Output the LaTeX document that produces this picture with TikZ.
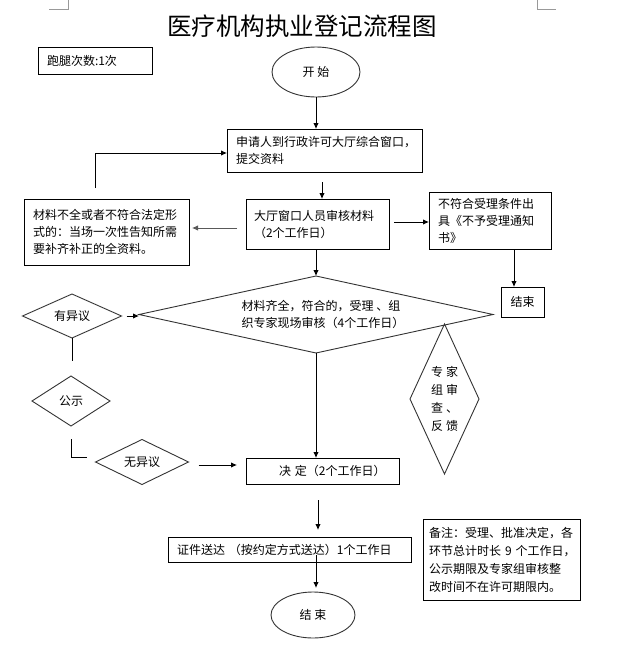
\documentclass[tikz,border=0pt]{standalone}
\usepackage{fontspec}
\newfontfamily\cjk{Noto Sans CJK SC}
\usetikzlibrary{shapes.geometric,arrows.meta,calc}
\begin{document}
\begin{tikzpicture}[x=1pt,y=-1pt,
  every node/.style={font=\cjk\fontsize{12}{17}\selectfont, inner sep=0pt, outer sep=0pt},
  bx/.style={draw=black, line width=0.9pt, rectangle, align=left},
  dia/.style={draw=black!80, line width=0.9pt, diamond, align=center},
  ell/.style={draw=black!80, line width=0.9pt, ellipse},
  arr/.style={draw=black, line width=0.9pt, -{Latex[length=6pt,width=5.5pt]}},
  ln/.style={draw=black, line width=0.9pt},
  corner/.style={draw=black!40, line width=0.8pt}]
\useasboundingbox (0,0) rectangle (620,645);

% page corner marks
\draw[corner] (49,9) -- (68,9) -- (68,0);
\draw[corner] (537,0) -- (537,9) -- (556,9);

% title
\node[font=\cjk\fontsize{24.5}{26}\selectfont] (title) at (302,26) {医疗机构执业登记流程图};

% nodes
\node[bx, minimum width=114pt, minimum height=27pt, text width=96pt] (paotui) at (95,60.5) {跑腿次数:1次};
\node[ell, minimum width=88pt, minimum height=50pt] (start) at (316,72) {开 始};
\node[bx, minimum width=195pt, minimum height=43pt, text width=177pt] (apply) at (324.5,150.5)
  {申请人到行政许可大厅综合窗口，\\提交资料};
\node[bx, minimum width=143pt, minimum height=50pt, text width=127pt] (review) at (317.5,224)
  {大厅窗口人员审核材料\\（2个工作日）};
\node[bx, minimum width=165pt, minimum height=66pt, text width=147pt] (incomplete) at (106.5,232)
  {材料不全或者不符合法定形\\式的：当场一次性告知所需\\要补齐补正的全资料。};
\node[bx, minimum width=122pt, minimum height=57pt, text width=104pt] (reject) at (490,220.5)
  {不符合受理条件出\\具《不予受理通知\\书》};
\node[bx, minimum width=43pt, minimum height=30pt] (endbox) at (522.5,302) {结束};
\node[dia, aspect=4.6, minimum width=354pt, minimum height=77pt, align=left] (main) at (316,314.5)
  {\hspace*{14pt}材料齐全，符合的，受理~、组\\\hspace*{14pt}织专家现场审核（4个工作日）};
\node[dia, aspect=2.25, minimum width=99pt, minimum height=44pt] (yiyi) at (72,316) {有异议};
\node[dia, aspect=1.56, minimum width=78pt, minimum height=50pt] (gongshi) at (71,401) {公示};
\node[dia, aspect=2.07, minimum width=93pt, minimum height=45pt] (wuyiyi) at (142,462) {无异议};
\node[dia, aspect=0.46, minimum width=69pt, minimum height=150pt, align=left,
      font=\cjk\fontsize{12}{18}\selectfont] (expert) at (444.5,399)
  {专\hspace{3pt}家\\组\hspace{3pt}审\\查\hspace{3pt}、\\反\hspace{3pt}馈};
\node[bx, minimum width=153pt, minimum height=26pt, text width=135pt] (decide) at (322.5,471)
  {\hspace*{24pt}决~定（2个工作日）};
\node[bx, minimum width=243pt, minimum height=25pt, text width=225pt] (cert) at (289.5,549.5)
  {证件送达~（按约定方式送达）1个工作日};
\node[bx, minimum width=157pt, minimum height=81pt, text width=145pt,
      font=\cjk\fontsize{12}{18}\selectfont] (note) at (501.5,559.5)
  {备注：受理、批准决定，各\\环节总计时长~9~个工作日，\\公示期限及专家组审核整\\改时间不在许可期限内。};
\node[ell, minimum width=84pt, minimum height=46pt] (endE) at (313,615) {结 束};

% connectors
\draw[arr] (start.south) -- (start.south |- apply.north);
\draw[arr] ($(apply.south)+(-2.5,10)$) coordinate (a1) -- (a1 |- review.north);
\draw[arr, draw=black!65] ($(review.west)+(-9,4)$) coordinate (a2) -- ($(a2 -| incomplete.east)+(3,0)$);
\draw[arr] ($(review.east)+(5,-2)$) coordinate (a3) -- (a3 -| reject.west);
\draw[arr] ($(incomplete.north)+(-11.5,-11)$) |- ($(apply.west)+(0,2.5)$);
\draw[arr] (review.south -| main.north) -- (main.north);
\draw[arr] ($(reject.south)+(24,0)$) coordinate (a4) -- (a4 |- endbox.north);
\draw[arr] ($(yiyi.east)+(5,0)$) coordinate (a5) -- (a5 -| main.west);
\draw[ln] (yiyi.south) -- ($(yiyi.south)!0.6!(yiyi.south |- gongshi.north)$);
\draw[ln] ($(gongshi.south)+(0,13)$) |- ($(wuyiyi.west)+(-9,-5)$);
\draw[arr, shorten >=9pt] ($(wuyiyi.east)+(10,3)$) coordinate (a6) -- (a6 -| decide.west);
\draw[arr] (main.south) -- (main.south |- decide.north);
\draw[arr, shorten >=7pt] ($(decide.south)+(-4.5,16)$) coordinate (a7) -- (a7 |- cert.north);
\draw[arr, shorten >=4pt] ($(cert.south)+(26.5,-7)$) coordinate (a8) -- (a8 |- endE.north);
\end{tikzpicture}
\end{document}
